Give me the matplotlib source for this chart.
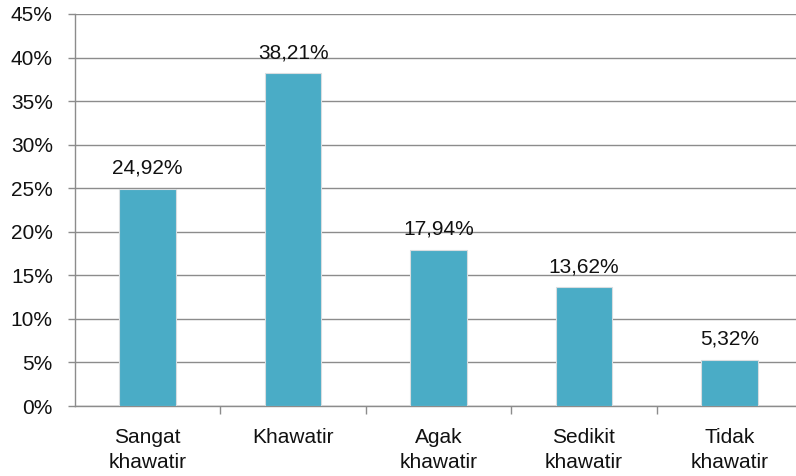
import matplotlib
matplotlib.use("Agg")
import matplotlib.pyplot as plt
from matplotlib.ticker import FixedLocator

categories = ["Sangat\nkhawatir", "Khawatir", "Agak\nkhawatir", "Sedikit\nkhawatir", "Tidak\nkhawatir"]
values = [24.92, 38.21, 17.94, 13.62, 5.32]
value_labels = ["24,92%", "38,21%", "17,94%", "13,62%", "5,32%"]
yticks = [0, 5, 10, 15, 20, 25, 30, 35, 40, 45]
ytick_labels = [f"{t}%" for t in yticks]

plt.rcParams['font.family'] = ['Liberation Sans', 'DejaVu Sans']

W, H = 796, 476
fig = plt.figure(figsize=(W/100, H/100), dpi=100)
ax = fig.add_axes([75/W, 70/H, 727/W, 392/H])

x = list(range(len(categories)))
ax.bar(x, values, width=0.39, color="#4aacc6", edgecolor="#d8dde0", linewidth=0.8, zorder=3)

FS = 15
for xi, v, lab in zip(x, values, value_labels):
    ax.annotate(lab, (xi, v), xytext=(0, 8), textcoords="offset points",
                ha="center", va="bottom", fontsize=FS, color="#111111")

ax.set_xlim(-0.5, 4.5)
ax.set_ylim(0, 45)
ax.set_yticks(yticks)
ax.set_yticklabels(ytick_labels, fontsize=FS, color="#111111")
ax.yaxis.grid(True, color="#8c8c8c", linewidth=1.0, zorder=0)
ax.set_axisbelow(True)

ax.set_xticks(x)
ax.set_xticklabels(categories, fontsize=FS, color="#111111", linespacing=1.4, va="top")
ax.tick_params(axis="x", which="major", length=0, pad=16)
ax.xaxis.set_minor_locator(FixedLocator([0.5, 1.5, 2.5, 3.5]))
ax.tick_params(axis="x", which="minor", length=6, width=1, color="#8c8c8c")
ax.tick_params(axis="y", length=5, width=1, color="#8c8c8c", pad=11)

for s in ["top", "right"]:
    ax.spines[s].set_visible(False)
for s in ["left", "bottom"]:
    ax.spines[s].set_color("#8c8c8c")
    ax.spines[s].set_linewidth(1.0)

fig.savefig("out.png", dpi=100)
